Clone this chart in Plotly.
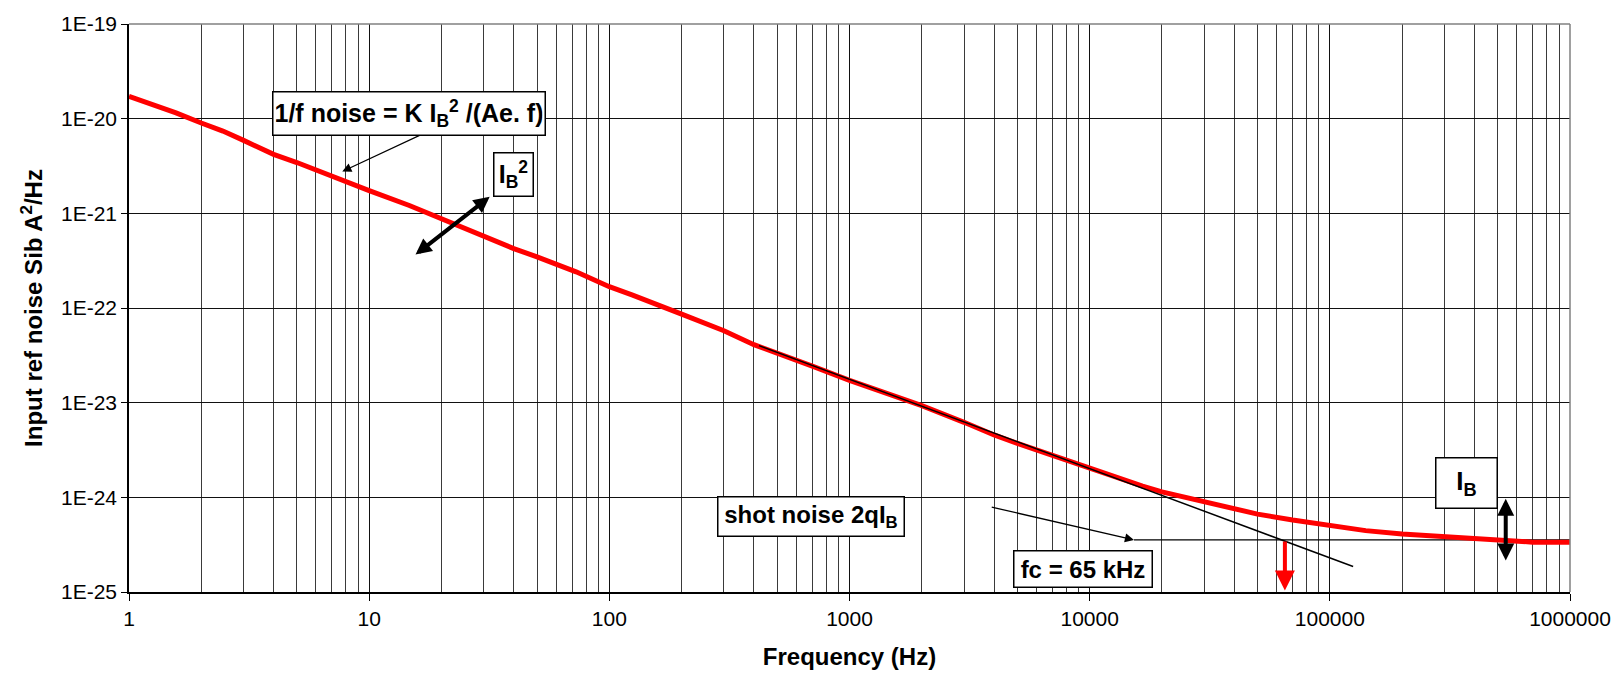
import math
import plotly.graph_objects as go

# ---------------- data ----------------
freq_hz = [1, 1.26, 1.57, 2, 2.46, 3, 4, 5, 7, 10, 14.7, 20, 30, 40, 50, 72.7,
           100, 125, 200, 300, 400, 500, 700, 1000, 2000, 3000, 4000, 5000, 7000,
           10000, 16600, 20000, 30000, 40000, 50000, 70000, 100000, 141000,
           200000, 300000, 500000, 700000, 1000000]
sib_a2hz = [1.72e-20, 1.41e-20, 1.15e-20, 9.0e-21, 7.4e-21, 5.9e-21, 4.2e-21,
            3.44e-21, 2.45e-21, 1.74e-21, 1.21e-21, 8.75e-22, 5.6e-22, 4.24e-22,
            3.47e-22, 2.41e-22, 1.68e-22, 1.37e-22, 8.6e-23, 5.75e-23, 4.1e-23,
            3.36e-23, 2.43e-23, 1.72e-23, 9.3e-24, 6.2e-24, 4.56e-24, 3.72e-24,
            2.77e-24, 2.01e-24, 1.31e-24, 1.14e-24, 8.95e-25, 7.5e-25, 6.65e-25,
            5.75e-25, 4.98e-25, 4.45e-25, 4.1e-25, 3.85e-25, 3.61e-25, 3.36e-25,
            3.36e-25]

flicker_f = [420, 125000]
flicker_sib = [4.0e-23, 1.86e-25]

shot_f = [15300, 1000000]
shot_sib = [3.55e-25, 3.55e-25]

fc_hz = 65000
ib_arrow_f = 540000
ib_arrow_top = 1e-24
ib_arrow_bottom = 2.15e-25

x_tick_vals = [1, 10, 100, 1000, 10000, 100000, 1000000]
x_tick_text = ["1", "10", "100", "1000", "10000", "100000", "1000000"]
y_tick_vals = [1e-25, 1e-24, 1e-23, 1e-22, 1e-21, 1e-20, 1e-19]
y_tick_text = ["1E-25", "1E-24", "1E-23", "1E-22", "1E-21", "1E-20", "1E-19"]
x_minor_vals = [k * 10 ** d for d in range(6) for k in range(2, 10)]

FONT = "Arial, Liberation Sans, sans-serif"
L = math.log10

fig = go.Figure()

fig.add_trace(go.Scatter(x=shot_f, y=shot_sib, mode="lines",
                         line=dict(color="black", width=1.4),
                         showlegend=False, hoverinfo="skip"))
fig.add_trace(go.Scatter(x=freq_hz, y=sib_a2hz, mode="lines",
                         line=dict(color="#ff0000", width=5),
                         showlegend=False))
fig.add_trace(go.Scatter(x=flicker_f, y=flicker_sib, mode="lines",
                         line=dict(color="black", width=1.5),
                         showlegend=False, hoverinfo="skip"))


def box(text, x, y, w, h, size=22):
    bw = 1.5
    pad = 2
    return dict(x=x, y=y, xref="x", yref="y", text=text, showarrow=False,
                xanchor="center", yanchor="middle",
                font=dict(family=FONT, size=size, color="black"),
                bgcolor="white", bordercolor="black", borderwidth=bw,
                borderpad=pad, width=w - 2 * pad - 2 * bw,
                height=h - 2 * pad - 2 * bw, align="center")


def arrow(x, y, ax, ay, color="black", width=1.3, size=1.0, double=False):
    d = dict(x=x, y=y, ax=ax, ay=ay, xref="x", yref="y", axref="x", ayref="y",
             text="", showarrow=True, arrowhead=2, arrowwidth=width,
             arrowsize=size, arrowcolor=color, standoff=0, startstandoff=0)
    if double:
        d.update(arrowside="end+start", startarrowhead=2, startarrowsize=size)
    return d


annotations = [
    # 1/f label + arrow
    arrow(0.888, -20.558, 1.272, -20.104, width=1.3, size=1.4),
    box("<b>1/f noise = K I<sub>B</sub><sup>2</sup> /(Ae. f)</b>", 1.166, -19.941, 274, 45, 25),
    # IB^2 double arrow and label
    arrow(1.193, -21.436, 1.508, -20.813, width=4, size=0.8, double=True),
    box("<b>I<sub>B</sub><sup>2</sup></b>", 1.600, -20.587, 41, 45, 25),
    # shot noise label + arrow
    arrow(L(shot_f[0]), L(shot_sib[0]), 3.586, -24.100, width=1.3, size=1.4),
    box("<b>shot noise 2qI<sub>B</sub></b>", 2.841, -24.200, 188, 41, 24),
    # fc label + red arrow
    box("<b>fc = 65 kHz</b>", 3.973, -24.761, 140, 38, 24),
    arrow(L(fc_hz), -24.985, L(fc_hz), L(shot_sib[0]), color="#ff0000",
          width=4, size=1.0),
    # IB label + double arrow
    box("<b>I<sub>B</sub></b>", 5.568, -23.848, 63, 52, 26),
    arrow(L(ib_arrow_f), L(ib_arrow_bottom), L(ib_arrow_f), L(ib_arrow_top),
          width=4, size=0.85, double=True),
]

fig.update_layout(
    width=1623, height=684,
    margin=dict(l=129, r=52, t=20, b=92),
    paper_bgcolor="white", plot_bgcolor="white",
    font=dict(family=FONT, color="black"),
    annotations=annotations,
    shapes=[
        dict(type="line", xref="paper", yref="paper", x0=0, x1=1, y0=1, y1=1,
             line=dict(color="#808080", width=1.5), layer="above"),
        dict(type="line", xref="paper", yref="paper", x0=1, x1=1, y0=0, y1=1,
             line=dict(color="#808080", width=1.5), layer="above"),
    ],
)

fig.update_xaxes(
    type="log", range=[0, 6],
    tickmode="array", tickvals=x_tick_vals, ticktext=x_tick_text,
    ticks="outside", ticklen=7, tickwidth=1, tickcolor="black",
    tickfont=dict(family=FONT, size=21, color="black"),
    showgrid=True, gridcolor="#111111", gridwidth=1,
    minor=dict(tickvals=x_minor_vals, showgrid=True, gridcolor="#3a3a3a",
               gridwidth=1, ticks=""),
    showline=True, linecolor="black", linewidth=1.5,
    zeroline=False,
    title=dict(text="<b>Frequency (Hz)</b>",
               font=dict(family=FONT, size=24, color="black"), standoff=19),
)
fig.update_yaxes(
    type="log", range=[-25, -19],
    tickmode="array", tickvals=y_tick_vals, ticktext=y_tick_text,
    ticks="outside", ticklen=6, tickwidth=1, tickcolor="black",
    tickfont=dict(family=FONT, size=21, color="black"),
    showgrid=True, gridcolor="#111111", gridwidth=1,
    showline=True, linecolor="black", linewidth=1.5,
    zeroline=False,
    title=dict(text="<b>Input ref noise Sib A<sup>2</sup>/Hz</b>",
               font=dict(family=FONT, size=24, color="black"), standoff=12),
)

fig.write_html("out.html")
